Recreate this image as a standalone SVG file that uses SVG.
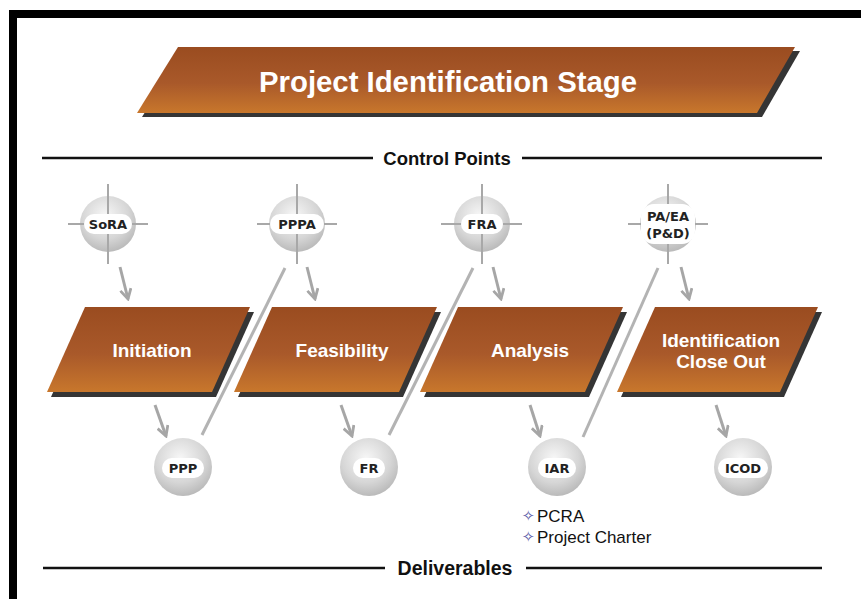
<svg xmlns="http://www.w3.org/2000/svg" width="861" height="599" viewBox="0 0 861 599">
<defs>
<linearGradient id="brown" x1="0" y1="0" x2="0" y2="1">
<stop offset="0" stop-color="#9a4c20"/>
<stop offset="0.55" stop-color="#a9592a"/>
<stop offset="1" stop-color="#c8772c"/>
</linearGradient>
<radialGradient id="sphere" cx="0.45" cy="0.35" r="0.7">
<stop offset="0" stop-color="#f7f7f7"/>
<stop offset="0.6" stop-color="#d6d6d6"/>
<stop offset="1" stop-color="#b4b4b4"/>
</radialGradient>
<marker id="ah" viewBox="0 0 12 12" refX="10" refY="6" markerWidth="13" markerHeight="13" markerUnits="userSpaceOnUse" orient="auto">
<path d="M1,1 L10,6 L1,11" fill="none" stroke="#a6a6a6" stroke-width="2.6"/>
</marker>
</defs>
<style>
.shadow{fill:#353535}
.box{fill:url(#brown)}
.btxt{font-family:"Liberation Sans",Arial,sans-serif;font-weight:bold;font-size:19px;fill:#ffffff;text-anchor:middle}
.sph{fill:url(#sphere)}
.cross{stroke:#a8a8a8;stroke-width:2;fill:none}
.pill{fill:#ffffff}
.ptxt{font-family:"DejaVu Sans",Verdana,sans-serif;font-weight:bold;font-size:13px;fill:#222222;text-anchor:middle}
.arr{stroke:#a6a6a6;stroke-width:3;fill:none;marker-end:url(#ah)}
.diag{stroke:#b3b3b3;stroke-width:3;fill:none}
.diagw{stroke:#ffffff;stroke-width:7;fill:none}
.rule{stroke:#111111;stroke-width:2.5}
.head{font-family:"Liberation Sans",Arial,sans-serif;font-weight:bold;fill:#111111;text-anchor:middle}
.bul{font-family:"Liberation Sans",Arial,sans-serif;font-size:17px;fill:#111111}
.star{font-family:"DejaVu Sans",sans-serif;font-size:15px;fill:#5a5aa8}
</style>
<rect width="861" height="599" fill="#ffffff"/>
<rect x="9" y="10" width="852" height="8" fill="#000000"/>
<rect x="9" y="10" width="8" height="589" fill="#000000"/>

<g id="title">
<polygon class="shadow" points="183,51 800,51 762,117 142,117"/>
<polygon class="box" points="178,47 795,47 757,113 137,113"/>
<text x="448" y="92" font-family="Liberation Sans, Arial, sans-serif" font-weight="bold" font-size="30" fill="#ffffff" text-anchor="middle" textLength="378" lengthAdjust="spacingAndGlyphs">Project Identification Stage</text>
</g>

<g id="control-points-heading">
<line class="rule" x1="42" y1="158" x2="373" y2="158"/>
<line class="rule" x1="522" y1="158" x2="822" y2="158"/>
<text class="head" x="447" y="165" font-size="18.5">Control Points</text>
</g>

<g id="deliverables-heading">
<line class="rule" x1="43" y1="568" x2="385" y2="568"/>
<line class="rule" x1="526" y1="568" x2="822" y2="568"/>
<text class="head" x="455" y="575" font-size="19.5">Deliverables</text>
</g>

<g id="connectors">
<line class="diagw" x1="202" y1="435" x2="285" y2="268"/>
<line class="diag" x1="202" y1="435" x2="285" y2="268"/>
<line class="diagw" x1="389" y1="435" x2="473" y2="268"/>
<line class="diag" x1="389" y1="435" x2="473" y2="268"/>
<line class="diagw" x1="583" y1="437" x2="658" y2="268"/>
<line class="diag" x1="583" y1="437" x2="658" y2="268"/>
<line class="arr" x1="120" y1="267" x2="128" y2="299"/>
<line class="arr" x1="307" y1="267" x2="315" y2="299"/>
<line class="arr" x1="493" y1="267" x2="501" y2="299"/>
<line class="arr" x1="681" y1="267" x2="689" y2="299"/>
<line class="arr" x1="155" y1="405" x2="166" y2="436"/>
<line class="arr" x1="341" y1="405" x2="352" y2="436"/>
<line class="arr" x1="530" y1="405" x2="540" y2="436"/>
<line class="arr" x1="716" y1="405" x2="726" y2="436"/>
</g>

<g id="initiation">
<polygon class="shadow" points="89,312 254,312 216,397 51,397"/>
<polygon class="box" points="85,307 250,307 212,392 47,392"/>
<text class="btxt" x="152" y="357">Initiation</text>
</g>
<g id="feasibility">
<polygon class="shadow" points="276,312 441,312 403,397 238,397"/>
<polygon class="box" points="272,307 437,307 399,392 234,392"/>
<text class="btxt" x="342" y="357">Feasibility</text>
</g>
<g id="analysis">
<polygon class="shadow" points="462,312 627,312 589,397 424,397"/>
<polygon class="box" points="458,307 623,307 585,392 420,392"/>
<text class="btxt" x="530" y="357">Analysis</text>
</g>
<g id="identification-close-out">
<polygon class="shadow" points="659,312 822,312 784,397 621,397"/>
<polygon class="box" points="655,307 818,307 780,392 617,392"/>
<text class="btxt" x="721" y="347">Identification</text>
<text class="btxt" x="721" y="368">Close Out</text>
</g>

<g id="sora">
<circle class="sph" cx="108" cy="224" r="28"/>
<path class="cross" d="M108,184 V264 M68,224 H148"/>
<rect class="pill" x="84" y="214" width="48" height="20" rx="10"/>
<text class="ptxt" x="108" y="229">SoRA</text>
</g>
<g id="pppa">
<circle class="sph" cx="297" cy="224" r="28"/>
<path class="cross" d="M297,184 V264 M257,224 H337"/>
<rect class="pill" x="270" y="214" width="54" height="20" rx="10"/>
<text class="ptxt" x="297" y="229">PPPA</text>
</g>
<g id="fra">
<circle class="sph" cx="482" cy="224" r="28"/>
<path class="cross" d="M482,184 V264 M441,224 H522"/>
<rect class="pill" x="461" y="214" width="42" height="20" rx="10"/>
<text class="ptxt" x="482" y="229">FRA</text>
</g>
<g id="pa-ea">
<circle class="sph" cx="668" cy="224" r="28"/>
<path class="cross" d="M668,184 V264 M628,224 H708"/>
<rect class="pill" x="641" y="204" width="54" height="40" rx="13"/>
<text class="ptxt" x="668" y="221">PA/EA</text>
<text class="ptxt" x="668" y="238">(P&amp;D)</text>
</g>

<g id="ppp">
<circle class="sph" cx="183" cy="467" r="29"/>
<rect class="pill" x="162" y="458" width="42" height="20" rx="10"/>
<text class="ptxt" x="183" y="473">PPP</text>
</g>
<g id="fr">
<circle class="sph" cx="369" cy="467" r="29"/>
<rect class="pill" x="353" y="458" width="32" height="20" rx="10"/>
<text class="ptxt" x="369" y="473">FR</text>
</g>
<g id="iar">
<circle class="sph" cx="557" cy="467" r="29"/>
<rect class="pill" x="538" y="458" width="38" height="20" rx="10"/>
<text class="ptxt" x="557" y="473">IAR</text>
</g>
<g id="icod">
<circle class="sph" cx="743" cy="467" r="29"/>
<rect class="pill" x="718" y="458" width="50" height="20" rx="10"/>
<text class="ptxt" x="743" y="473">ICOD</text>
</g>

<g id="iar-notes">
<text class="star" x="522" y="521">✧</text>
<text class="bul" x="537" y="522">PCRA</text>
<text class="star" x="522" y="542">✧</text>
<text class="bul" x="537" y="543">Project Charter</text>
</g>
</svg>
